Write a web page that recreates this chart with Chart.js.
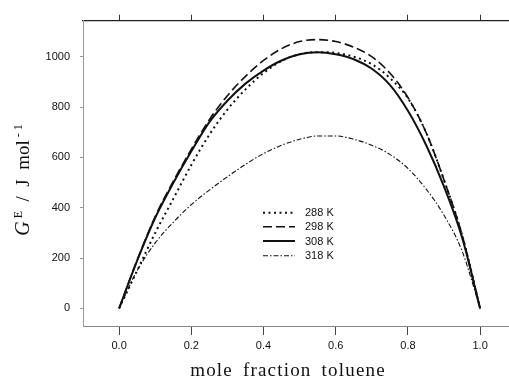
<!DOCTYPE html>
<html>
<head>
<meta charset="utf-8">
<script src="https://cdn.jsdelivr.net/npm/chart.js@4.4.1/dist/chart.umd.min.js"></script>
<style>
  html, body { margin: 0; padding: 0; background: #fff; overflow: hidden; }
  #wrap { width: 509px; height: 381px; position: relative; }
</style>
</head>
<body>
<div id="wrap"><canvas id="ge-chart"></canvas></div>
<script>
// mole fraction toluene, read every 0.05
const fraz = [0, 0.05, 0.1, 0.15, 0.2, 0.25, 0.3, 0.35, 0.4, 0.45, 0.5,
              0.55, 0.6, 0.65, 0.7, 0.75, 0.8, 0.85, 0.9, 0.95, 1.0];

// G^E / J mol-1 for each temperature
const ge288 = [0, 150, 300, 435, 570, 690, 790, 870, 935, 983, 1010,
               1018, 1015, 1000, 970, 915, 835, 700, 510, 292, 0];
const ge298 = [0, 192, 365, 505, 632, 750, 845, 922, 985, 1032, 1060,
               1068, 1060, 1038, 1000, 935, 838, 700, 510, 292, 0];
const ge308 = [0, 190, 360, 498, 624, 740, 825, 893, 945, 985, 1010,
               1018, 1010, 990, 952, 888, 785, 650, 484, 282, 0];
const ge318 = [0, 150, 260, 342, 412, 470, 523, 572, 615, 648, 672,
               685, 685, 672, 648, 612, 556, 475, 370, 228, 0];

const etichette = ["288 K", "298 K", "308 K", "318 K"];
const tickX = [0, 0.2, 0.4, 0.6, 0.8, 1.0];
const tickY = [0, 200, 400, 600, 800, 1000];

const punti = (serie) => fraz.map((x, i) => ({ x, y: serie[i] }));

// legenda dentro l'area del grafico
const legendaInterna = {
  id: "legendaInterna",
  afterDatasetsDraw(chart) {
    const ctx = chart.ctx;
    const righe = [212.7, 226.7, 241, 255.7];
    ctx.save();
    chart.data.datasets.forEach((ds, i) => {
      const y = righe[i];
      ctx.beginPath();
      ctx.setLineDash(ds.borderDash || []);
      ctx.lineWidth = ds.borderWidth;
      ctx.strokeStyle = ds.borderColor;
      ctx.moveTo(263, y);
      ctx.lineTo(295, y);
      ctx.stroke();
      ctx.setLineDash([]);
      ctx.fillStyle = "#111";
      ctx.font = "11px 'Liberation Sans', Arial, sans-serif";
      ctx.textBaseline = "middle";
      ctx.fillText(ds.label, 305, y + 0.5);
    });
    ctx.restore();
  },
};

// titoli degli assi (G in corsivo, apici)
const titoliAssi = {
  id: "titoliAssi",
  afterDraw(chart) {
    const ctx = chart.ctx;
    ctx.save();
    ctx.fillStyle = "#111";
    ctx.textBaseline = "alphabetic";

    // asse x
    ctx.font = "19px 'Liberation Serif', 'Times New Roman', serif";
    ctx.letterSpacing = "1.2px";
    ctx.wordSpacing = "4px";
    const tx = "mole fraction toluene";
    const w = ctx.measureText(tx).width;
    ctx.fillText(tx, 288 - w / 2, 376);
    ctx.letterSpacing = "0px";
    ctx.wordSpacing = "0px";

    // asse y, ruotato
    const pezzi = [
      { t: "G", f: "italic 20px 'Liberation Serif', serif", dy: 0 },
      { t: " E", f: "12px 'Liberation Serif', serif", dy: -7 },
      { t: "  /  J  mol", f: "19px 'Liberation Serif', serif", dy: 0 },
      { t: " - 1", f: "12px 'Liberation Serif', serif", dy: -7 },
    ];
    let tot = 0;
    pezzi.forEach((p) => { ctx.font = p.f; tot += ctx.measureText(p.t).width; });
    ctx.translate(29, 180);
    ctx.rotate(-Math.PI / 2);
    let x = -tot / 2;
    pezzi.forEach((p) => {
      ctx.font = p.f;
      ctx.fillText(p.t, x, p.dy);
      x += ctx.measureText(p.t).width;
    });
    ctx.restore();
  },
};

new Chart(document.getElementById("ge-chart").getContext("2d"), {
  type: "line",
  data: {
    datasets: [
      {
        label: etichette[0],
        data: punti(ge288),
        borderColor: "#111",
        borderWidth: 2,
        borderDash: [2, 3.5],
      },
      {
        label: etichette[1],
        data: punti(ge298),
        borderColor: "#111",
        borderWidth: 1.6,
        borderDash: [9, 4],
      },
      {
        label: etichette[2],
        data: punti(ge308),
        borderColor: "#111",
        borderWidth: 2,
      },
      {
        label: etichette[3],
        data: punti(ge318),
        borderColor: "#111",
        borderWidth: 1.1,
        borderDash: [5, 2, 1.5, 2],
      },
    ],
  },
  options: {
    responsive: true,
    maintainAspectRatio: false,
    animation: false,
    layout: { padding: 0 },
    elements: {
      point: { radius: 0 },
      line: { cubicInterpolationMode: "monotone", fill: false },
    },
    scales: {
      x: {
        type: "linear",
        position: "bottom",
        min: -0.1,
        max: 1.08,
        afterBuildTicks: (s) => { s.ticks = tickX.map((v) => ({ value: v })); },
        afterFit: (s) => { s.height = 55; },
        border: { color: "#888", width: 1 },
        grid: { drawOnChartArea: false, tickLength: 9, color: "#444" },
        ticks: {
          padding: 4,
          color: "#111",
          font: { family: "'Liberation Sans', Arial, sans-serif", size: 11 },
          callback: (v) => v.toFixed(1),
        },
      },
      x2: {
        type: "linear",
        position: "top",
        min: -0.1,
        max: 1.08,
        afterBuildTicks: (s) => { s.ticks = tickX.map((v) => ({ value: v })); },
        afterFit: (s) => { s.height = 20.7; },
        border: { color: "#222", width: 1.3 },
        grid: { drawOnChartArea: false, tickLength: 6, color: "#333" },
        ticks: { display: false },
      },
      y: {
        min: -70,
        max: 1143,
        afterBuildTicks: (s) => { s.ticks = tickY.map((v) => ({ value: v })); },
        afterFit: (s) => { s.width = 83; },
        border: { color: "#999", width: 1 },
        grid: { drawOnChartArea: false, tickLength: 3, color: "#999" },
        ticks: {
          padding: 10,
          color: "#111",
          font: { family: "'Liberation Sans', Arial, sans-serif", size: 11 },
          callback: (v) => String(v),
        },
      },
    },
    plugins: {
      legend: { display: false },
      tooltip: { enabled: false },
    },
  },
  plugins: [legendaInterna, titoliAssi],
});
</script>
</body>
</html>
